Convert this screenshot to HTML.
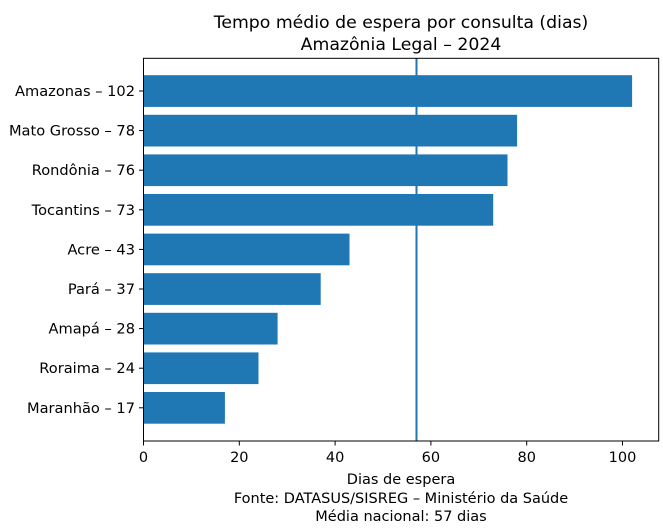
<!DOCTYPE html>
<html><head><meta charset="utf-8"><style>body{margin:0;background:#fff}svg{display:block}text{font-family:"DejaVu Sans","Liberation Sans",sans-serif;fill:#000}</style></head>
<body>
<svg width="663" height="529" viewBox="0 0 663 529" xmlns="http://www.w3.org/2000/svg">
<rect width="663" height="529" fill="#fff"/>
<text x="401" y="28" font-size="17.3" text-anchor="middle">Tempo médio de espera por consulta (dias)</text>
<text x="401" y="50" font-size="17.3" text-anchor="middle">Amazônia Legal – 2024</text>
<g fill="#1f77b4">
<rect x="143.5" y="75.2" width="488.6" height="31.7"/>
<rect x="143.5" y="114.8" width="373.6" height="31.7"/>
<rect x="143.5" y="154.4" width="364.0" height="31.7"/>
<rect x="143.5" y="194.0" width="349.7" height="31.7"/>
<rect x="143.5" y="233.6" width="206.0" height="31.7"/>
<rect x="143.5" y="273.2" width="177.2" height="31.7"/>
<rect x="143.5" y="312.8" width="134.1" height="31.7"/>
<rect x="143.5" y="352.4" width="115.0" height="31.7"/>
<rect x="143.5" y="392.0" width="81.4" height="31.7"/>
</g>
<line x1="416.5" y1="58.3" x2="416.5" y2="441" stroke="#1f77b4" stroke-width="2"/>
<rect x="143.5" y="58.3" width="515.2" height="382.7" fill="none" stroke="#000" stroke-width="1"/>
<g stroke="#000" stroke-width="1">
<line x1="139" y1="91" x2="143.5" y2="91"/><line x1="139" y1="130.6" x2="143.5" y2="130.6"/>
<line x1="139" y1="170.2" x2="143.5" y2="170.2"/><line x1="139" y1="209.8" x2="143.5" y2="209.8"/>
<line x1="139" y1="249.4" x2="143.5" y2="249.4"/><line x1="139" y1="289" x2="143.5" y2="289"/>
<line x1="139" y1="328.6" x2="143.5" y2="328.6"/><line x1="139" y1="368.2" x2="143.5" y2="368.2"/>
<line x1="139" y1="407.8" x2="143.5" y2="407.8"/>
<line x1="143.5" y1="441" x2="143.5" y2="445.5"/><line x1="239.3" y1="441" x2="239.3" y2="445.5"/>
<line x1="335.1" y1="441" x2="335.1" y2="445.5"/><line x1="430.9" y1="441" x2="430.9" y2="445.5"/>
<line x1="526.7" y1="441" x2="526.7" y2="445.5"/><line x1="622.5" y1="441" x2="622.5" y2="445.5"/>
</g>
<g font-size="14.6" text-anchor="end">
<text x="135" y="96">Amazonas – 102</text>
<text x="135" y="135.6">Mato Grosso – 78</text>
<text x="135" y="175.2">Rondônia – 76</text>
<text x="135" y="214.8">Tocantins – 73</text>
<text x="135" y="254.4">Acre – 43</text>
<text x="135" y="294">Pará – 37</text>
<text x="135" y="333.6">Amapá – 28</text>
<text x="135" y="373.2">Roraima – 24</text>
<text x="135" y="412.8">Maranhão – 17</text>
</g>
<g font-size="14.5" text-anchor="middle">
<text x="143.5" y="462">0</text><text x="239.3" y="462">20</text><text x="335.1" y="462">40</text>
<text x="430.9" y="462">60</text><text x="526.7" y="462">80</text><text x="622.5" y="462">100</text>
<text x="401" y="484">Dias de espera</text>
<text x="401" y="503">Fonte: DATASUS/SISREG – Ministério da Saúde</text>
<text x="401" y="521">Média nacional: 57 dias</text>
</g>
</svg>
</body></html>
